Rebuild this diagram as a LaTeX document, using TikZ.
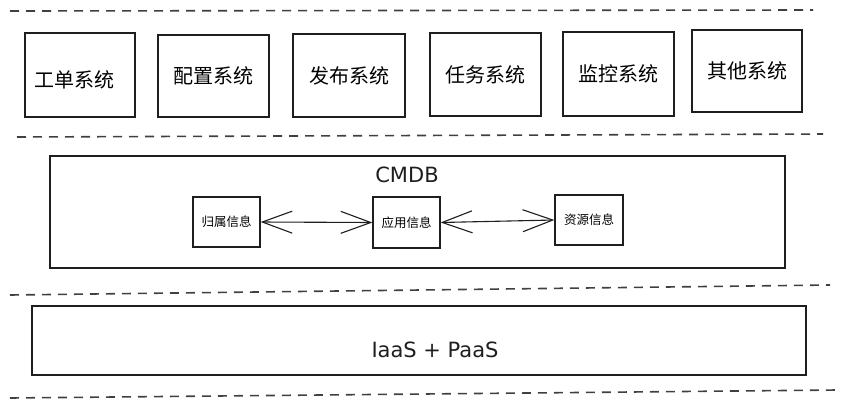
\documentclass[tikz,border=0pt]{standalone}
\usepackage{fontspec}
\setmainfont{DejaVu Sans}
\newfontfamily\cjk{Noto Sans CJK SC}
\usetikzlibrary{arrows.meta}
\definecolor{ink}{HTML}{1E1E1E}
\begin{document}
\begin{tikzpicture}[x=1pt,y=-1pt,
  sysbox/.style={draw=ink,line width=1.4pt,minimum width=#1,inner sep=0pt,font=\cjk\fontsize{20}{20}\selectfont},
  infobox/.style={draw=ink,line width=1.3pt,minimum width=67pt,minimum height=50pt,inner sep=0pt,font=\cjk\fontsize{12.5}{12.5}\selectfont},
  bigbox/.style={draw=ink,line width=1.4pt,inner sep=0pt},
  sep/.style={draw=ink!85,line width=1.6pt,dash pattern=on 9pt off 7pt},
  biarrow/.style={draw=ink,line width=1.1pt,{Straight Barb[length=30pt,width=22pt,line width=1.1pt]}-{Straight Barb[length=30pt,width=22pt,line width=1.1pt]}},
  lbl/.style={font=\fontsize{21}{21}\selectfont,text=ink}]
\useasboundingbox (0,0) rectangle (850,407);
% separators
\draw[sep] (10,11) -- (813,10);
\draw[sep] (17,137) -- (823,134);
\draw[sep] (10,295) -- (830,285);
\draw[sep] (10,398) -- (837,390);
% top systems
\node[sysbox=110pt,minimum height=84pt] (s1) at (80,75) {};
\node at (74,80) [font=\cjk\fontsize{20}{20}\selectfont] (t1) {工单系统};
\node[sysbox=111pt,minimum height=82pt] (s2) at (213.5,76) {配置系统};
\node[sysbox=112pt,minimum height=83pt] (s3) at (349,75.5) {发布系统};
\node[sysbox=111pt,minimum height=83pt] (s4) at (485.5,74.5) {任务系统};
\node[sysbox=111pt,minimum height=84pt] (s5) at (618.5,74) {监控系统};
\node[sysbox=110pt,minimum height=82pt] (s6) at (747,71) {其他系统};
% CMDB layer
\node[bigbox,minimum width=735pt,minimum height=112pt] (cmdb) at (417.5,212) {};
\node[lbl] (cmdbl) at (407,175) {CMDB};
\node[infobox] (own) at (226.5,222) {归属信息};
\node[infobox,minimum height=51pt] (app) at (406.5,222.5) {应用信息};
\node[infobox,minimum width=68pt] (res) at (589,220) {资源信息};
\draw[biarrow] (own.east) -- (app.west);
\draw[biarrow] (app.east) -- (res.west);
% IaaS layer
\node[bigbox,minimum width=774pt,minimum height=69pt] (infra) at (419,340.5) {};
\node[lbl] (infral) at (435,350) {IaaS + PaaS};
\end{tikzpicture}
\end{document}
